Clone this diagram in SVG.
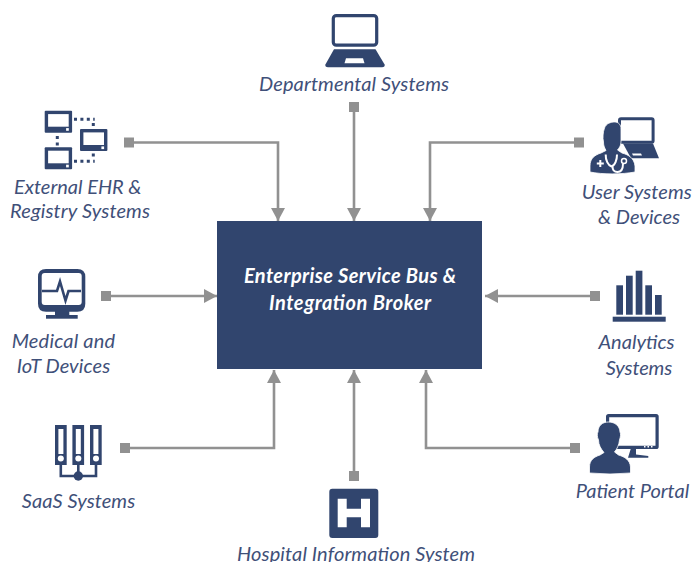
<svg xmlns="http://www.w3.org/2000/svg" width="693" height="562" viewBox="0 0 693 562">
<style>
.lbl{font-family:"Lato","Open Sans",sans-serif;font-style:italic;font-weight:400;font-size:20px;fill:#3f5079}
.hub{font-family:"Lato","Open Sans",sans-serif;font-style:italic;font-weight:700;font-size:20px;fill:#fff}
.i{fill:#31456e}
.w{fill:#fff}
.c{fill:none;stroke:#919191;stroke-width:2.6}
.s{fill:#919191}
.d{fill:none;stroke:#31456e;stroke-width:3;stroke-dasharray:3 3.4}
.wl{fill:none;stroke:#fff;stroke-width:2}
.il{fill:none;stroke:#31456e;stroke-width:2.6}
</style>
<defs>
<marker id="a" markerUnits="userSpaceOnUse" markerWidth="14" markerHeight="14" refX="13" refY="7" orient="auto"><path d="M0 0L13 7L0 14Z" fill="#919191"/></marker>
<g id="mon"><rect width="27.4" height="22" rx="1" class="i"/><rect x="3.4" y="3.4" width="20.6" height="12.6" class="w"/><rect x="21.4" y="17.4" width="2.7" height="2.7" class="w"/></g>
</defs>
<g id="connectors">
<path class="c" marker-end="url(#a)" d="M129 142.500H278V221"/><rect class="s" x="124" y="137.500" width="10" height="10"/>
<path class="c" marker-end="url(#a)" d="M354 107V221"/><rect class="s" x="349" y="102" width="10" height="10"/>
<path class="c" marker-end="url(#a)" d="M579 142.500H430V221"/><rect class="s" x="574" y="137.500" width="10" height="10"/>
<path class="c" marker-end="url(#a)" d="M106 296H217"/><rect class="s" x="101" y="291" width="10" height="10"/>
<path class="c" marker-end="url(#a)" d="M595 296H485"/><rect class="s" x="590" y="291" width="10" height="10"/>
<path class="c" marker-end="url(#a)" d="M125 448H274V370"/><rect class="s" x="120" y="443" width="10" height="10"/>
<path class="c" marker-end="url(#a)" d="M354 476V370"/><rect class="s" x="349" y="471" width="10" height="10"/>
<path class="c" marker-end="url(#a)" d="M575 448H426V370"/><rect class="s" x="570" y="443" width="10" height="10"/>
</g>
<g id="hub">
<rect x="217" y="221" width="265" height="148" class="i"/>
<text class="hub" x="244" y="283" textLength="212">Enterprise Service Bus &amp;</text>
<text class="hub" x="269" y="310" textLength="162">Integration Broker</text>
</g>
<g id="departmental">
<rect x="333.300" y="15.600" width="43.400" height="29.600" rx="3" fill="#fff" stroke="#31456e" stroke-width="3.200"/>
<path class="i" d="M334 49.300H375.500L384.600 64.500Q385.200 67.300 382 67.300H328Q324.800 67.300 325.400 64.500Z"/>
<path class="w" d="M346 58.300H363L364.500 63.300H344.500Z"/>
<text class="lbl" x="259" y="91" textLength="190">Departmental Systems</text>
</g>
<g id="external-ehr">
<use href="#mon" x="44.700" y="110.700"/><use href="#mon" x="80" y="129"/><use href="#mon" x="44.700" y="147.300"/>
<path class="d" d="M74 119.300H94.700M93.300 123V128M57.300 136V146M74 161.300H94.700M93.300 153.500V158"/>
<text class="lbl" x="14" y="193.500" textLength="127.500">External EHR &amp;</text>
<text class="lbl" x="10" y="217.500" textLength="140">Registry Systems</text>
</g>
<g id="user-systems">
<rect x="619.500" y="118.800" width="33.600" height="23.500" rx="1.500" fill="#fff" stroke="#31456e" stroke-width="3"/>
<path class="i" d="M623 143.500H653L659 158.300H631Z"/>
<path class="w" d="M632 153.500H641L642 155.500H633Z"/>
<path class="i" stroke="#fff" stroke-width="0.800" d="M590 172V166C590 158 595 155 601 153L606 150.500C604 147 603.500 145 603.500 142C602.500 138 603 132 604.500 128C606 123.500 611 122 614.500 122C618.500 122 621 124.500 621 129V141C621 146 619 148 617.500 150L622 153C629 155 634 158 635 166V172C622 174.500 602 174.500 590 172Z"/>
<path class="wl" stroke-width="1.800" d="M605.700 154.500C605.500 160 608 165.500 611.500 166.500C615 165.500 617 160 617 154.500M612.500 166.500C612.500 170.500 614.500 172 617.500 172C621 172 623 169 623 163.500"/>
<circle cx="624" cy="161" r="2.500" fill="#31456e" stroke="#fff" stroke-width="1.500"/>
<path class="wl" d="M596.800 163.500H603.800M600.300 160V167"/>
<text class="lbl" x="581.700" y="198.500" textLength="110">User Systems</text>
<text class="lbl" x="598" y="223.500" textLength="82">&amp; Devices</text>
</g>
<g id="medical">
<path class="i" d="M46 269H77.300Q85.300 269 85.300 277V303.700Q85.300 311.700 77.300 311.700H46Q38 311.700 38 303.700V277Q38 269 46 269Z"/>
<rect x="41.700" y="273" width="40" height="32" rx="3" class="w"/>
<rect x="55" y="311" width="14.300" height="5" class="i"/>
<rect x="46" y="315" width="31.700" height="3.700" class="i"/>
<path class="il" d="M42 291H57L60 281.500L65.500 300.500L68.500 291H81"/>
<text class="lbl" x="11.700" y="348" textLength="103.500">Medical and</text>
<text class="lbl" x="16.700" y="373" textLength="93.500">IoT Devices</text>
</g>
<g id="analytics">
<rect class="i" x="616.300" y="285.300" width="6.700" height="29.400"/>
<rect class="i" x="626" y="275.700" width="6.700" height="39"/>
<rect class="i" x="635.700" y="270.700" width="6.700" height="44"/>
<rect class="i" x="645.300" y="285.300" width="6.700" height="29.400"/>
<rect class="i" x="655" y="295" width="6.700" height="19.700"/>
<rect class="i" x="612.700" y="316.700" width="53" height="5"/>
<text class="lbl" x="598.500" y="348.500" textLength="76">Analytics</text>
<text class="lbl" x="605.700" y="374.500" textLength="66.500">Systems</text>
</g>
<g id="saas">
<rect class="i" x="55" y="425" width="11.700" height="40"/>
<rect class="i" x="72.400" y="425" width="11.700" height="40"/>
<rect class="i" x="90" y="425" width="11.700" height="40"/>
<rect class="w" x="58.400" y="429" width="5" height="25"/>
<rect class="w" x="75.800" y="429" width="5" height="25"/>
<rect class="w" x="93.400" y="429" width="5" height="25"/>
<circle class="w" cx="60.800" cy="458.500" r="3"/><circle class="w" cx="78.300" cy="458.500" r="3"/><circle class="w" cx="96" cy="458.500" r="3"/>
<path class="il" d="M60.800 464V476H96V464M78.300 464V476"/>
<circle class="i" cx="78.300" cy="476" r="4.700"/>
<text class="lbl" x="21.700" y="508" textLength="113.500">SaaS Systems</text>
</g>
<g id="patient">
<rect x="607.600" y="415.600" width="49.500" height="31.800" rx="1" fill="#fff" stroke="#31456e" stroke-width="3.200"/>
<path class="w" d="M644 446H645.500V447.500H644ZM647.500 446H649V447.500H647.500ZM651 446H652.500V447.500H651Z"/>
<path class="i" d="M630.700 449H636V454.500L648.300 456V457.700H628Z"/>
<path class="i" stroke="#fff" stroke-width="0.800" d="M589.500 473V467C589.500 460 594 457 600 455L604 452.500C601 449 598.500 445 598.500 440C597 437 597 433 598 432C598 426 602 422 608.500 422C615 422 619.800 426 620 432C621 434 620.500 437 619.500 440C619 445 617 449 614.500 452L618.500 455C625 457 630 460 630.500 467V473Q610 475 589.500 473Z"/>
<text class="lbl" x="575.700" y="497.500" textLength="113.500">Patient Portal</text>
</g>
<g id="hospital">
<rect class="i" x="329.300" y="488.700" width="49" height="49.300" rx="3"/>
<path class="w" d="M337.700 498.700H346.700V508.700H361V498.700H370V527.300H361V517.300H346.700V527.300H337.700Z"/>
<text class="lbl" x="237" y="561" textLength="238">Hospital Information System</text>
</g>
</svg>
